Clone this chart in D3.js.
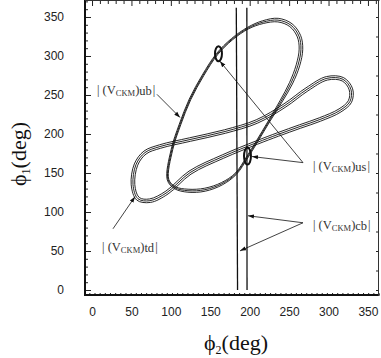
<!DOCTYPE html>
<html><head><meta charset="utf-8">
<script src="https://cdn.jsdelivr.net/npm/d3@7"></script>
<style>html,body{margin:0;padding:0;background:#fff;}svg{display:block}</style>
</head><body>
<script>
// ---------------- data (degrees) ----------------
const xTickLabels = [0, 50, 100, 150, 200, 250, 300, 350];
const yTickLabels = [0, 50, 100, 150, 200, 250, 300, 350];

// |V_ub| contour (phi2, phi1)
const ubPhi2 = [96.4,101.4,111.6,124.3,140.8,158.5,177.5,197.8,216.8,235.9,252.3,262.5,265.0,261.2,252.3,239.7,224.4,209.2,196.6,182.6,164.8,143.3,121.7,105.2];
const ubPhi1 = [141.5,180.1,212.2,244.4,275.2,302.3,321.5,335.7,343.4,346.0,339.5,325.4,308.7,288.1,265.0,241.8,216.1,190.4,169.8,149.2,136.3,128.6,127.3,131.2];

// |V_td| contour (phi2, phi1)
const tdPhi2 = [52.0,55.8,67.2,86.2,124.3,168.7,209.2,244.7,272.6,298.0,318.3,328.4,327.2,314.5,289.1,263.8,235.9,209.2,166.1,124.3,95.1,73.5,58.3];
const tdPhi1 = [135.0,160.8,176.2,183.9,192.9,203.2,216.1,236.7,257.2,271.4,270.1,257.2,241.8,230.2,218.6,209.6,199.4,189.1,171.1,150.5,125.0,114.5,117.0];

// |V_cb| bands (two near-vertical lines)
const cbLeftPhi2 = [183.0, 184.6];
const cbRightPhi2 = [196.4, 196.6];
const cbPhi1 = [362, 0];

// |V_us| small ellipses
const usPhi2 = [160.4, 197.2];
const usPhi1 = [302.9, 171.7];
const usHalfPhi2 = [4.4, 4.4];
const usHalfPhi1 = [9.6, 10.9];

// annotations: label text, label anchor, arrow tips
const labelNames = ["ub", "us", "cb", "td"];
const labelPhi2 = [6.3, 280.2, 280.2, 12.7];
const labelPhi1 = [250.8, 153.8, 78.2, 50.0];
const arrowFromPhi2 = [82.4, 267.6, 267.6, 267.6, 267.6, 26.6];
const arrowFromPhi1 = [250.8, 163.3, 163.3, 86.2, 86.2, 78.5];
const arrowToPhi2 = [111.6, 162.3, 202.9, 197.8, 187.7, 54.5];
const arrowToPhi1 = [221.2, 293.2, 171.1, 95.2, 50.2, 119.6];

// ---------------- styles ----------------
const ubSpread = [0.8,0.8,0.8,0.8,0.8,0.8,0.8,0.9,1.4,1.8,1.8,1.8,1.8,1.8,1.6,1.2,0.8,0.8,0.8,0.8,1.2,1.5,1.5,1.1];
const tdSpread = 1.8;

const W = 381, H = 358;
const svg = d3.select("body").append("svg").attr("width", W).attr("height", H);
const x = d3.scaleLinear().domain([-8.9, 364]).range([85, 379]);
const y = d3.scaleLinear().domain([-6.4, 370.5]).range([295, 1]);

const defs = svg.append("defs");
defs.append("marker").attr("id", "ah").attr("viewBox", "0 0 10 10")
  .attr("refX", 10).attr("refY", 5).attr("markerWidth", 6).attr("markerHeight", 6)
  .attr("markerUnits", "userSpaceOnUse").attr("orient", "auto")
  .append("path").attr("d", "M0,1.5 L10,5 L0,8.5 Z").attr("fill", "#111");

// ---- axes ----
const fontSans = "'Liberation Sans', Arial, sans-serif";
const fontSerif = "'Liberation Serif', 'DejaVu Serif', serif";

const gx = svg.append("g").attr("transform", "translate(0,295)");
gx.call(d3.axisBottom(x).tickValues(d3.range(-3.4, 364, 6.55)).tickSize(-2).tickFormat(""));
const gxl = svg.append("g").attr("transform", "translate(0,295)");
gxl.call(d3.axisBottom(x).tickValues(xTickLabels).tickSize(0).tickPadding(12));

const gy = svg.append("g").attr("transform", "translate(85,0)");
gy.call(d3.axisLeft(y).tickValues(d3.range(0, 371, 10)).tickSize(-3).tickFormat(""));
const gyl = svg.append("g").attr("transform", "translate(85,0)");
gyl.call(d3.axisLeft(y).tickValues(yTickLabels).tickSize(-6).tickPadding(21));

const gt = svg.append("g").attr("transform", "translate(0,1)");
gt.call(d3.axisTop(x).tickValues(d3.range(0, 361, 10)).tickSize(-3).tickFormat(""));
gt.call(g => g.selectAll(".tick").filter(d => d % 50 === 0).select("line").attr("y2", 5));

const gr = svg.append("g").attr("transform", "translate(379,0)");
gr.call(d3.axisRight(y).tickValues(d3.range(0, 371, 25)).tickSize(-3).tickFormat(""));

svg.selectAll(".domain").remove();
svg.selectAll(".tick line").attr("stroke", "#222").attr("stroke-width", 1);
svg.selectAll(".tick text").attr("font-family", fontSans).attr("font-size", 12).attr("fill", "#222");

// frame
svg.append("line").attr("x1", 85).attr("x2", 85).attr("y1", 0).attr("y2", 296).attr("stroke", "#111").attr("stroke-width", 2);
svg.append("line").attr("x1", 84).attr("x2", 379.5).attr("y1", 295).attr("y2", 295).attr("stroke", "#111").attr("stroke-width", 2);
svg.append("line").attr("x1", 85).attr("x2", 379.5).attr("y1", 0.5).attr("y2", 0.5).attr("stroke", "#333").attr("stroke-width", 1);
svg.append("line").attr("x1", 378.5).attr("x2", 378.5).attr("y1", 0).attr("y2", 296).attr("stroke", "#333").attr("stroke-width", 1);

// ---- contour bands (three parallel lines) ----
function band(p2, p1, spread) {
  const pts = p2.map((v, i) => [x(v), y(p1[i])]);
  const n = pts.length;
  const nor = pts.map((p, i) => {
    const a = pts[(i - 1 + n) % n], b = pts[(i + 1) % n];
    const tx = b[0] - a[0], ty = b[1] - a[1], l = Math.hypot(tx, ty);
    return [-ty / l, tx / l];
  });
  return [-1, 0, 1].map(k => pts.map((p, i) => {
    const s = Array.isArray(spread) ? spread[i] : spread;
    return [p[0] + k * s * nor[i][0], p[1] + k * s * nor[i][1]];
  }));
}
const closed = d3.line().curve(d3.curveCatmullRomClosed.alpha(0.5));
const plot = svg.append("g");
[...band(tdPhi2, tdPhi1, tdSpread), ...band(ubPhi2, ubPhi1, ubSpread)].forEach(pts => {
  plot.append("path").attr("d", closed(pts)).attr("fill", "none").attr("stroke", "#111").attr("stroke-width", 0.9);
});

// |V_cb| lines
[cbLeftPhi2, cbRightPhi2].forEach(arr => {
  plot.append("line").attr("x1", x(arr[0])).attr("y1", y(cbPhi1[0])).attr("x2", x(arr[1])).attr("y2", y(cbPhi1[1]))
    .attr("stroke", "#111").attr("stroke-width", 1.3);
});

// |V_us| ellipses
usPhi2.forEach((c, i) => {
  plot.append("ellipse").attr("cx", x(c)).attr("cy", y(usPhi1[i]))
    .attr("rx", x(c + usHalfPhi2[i]) - x(c)).attr("ry", y(usPhi1[i] - usHalfPhi1[i]) - y(usPhi1[i]))
    .attr("fill", "none").attr("stroke", "#111").attr("stroke-width", 2);
});

// arrows
arrowFromPhi2.forEach((v, i) => {
  plot.append("line").attr("x1", x(v)).attr("y1", y(arrowFromPhi1[i]))
    .attr("x2", x(arrowToPhi2[i])).attr("y2", y(arrowToPhi1[i]))
    .attr("stroke", "#111").attr("stroke-width", 0.8).attr("marker-end", "url(#ah)");
});

// labels
labelNames.forEach((nm, i) => {
  const t = svg.append("text").attr("x", x(labelPhi2[i])).attr("y", y(labelPhi1[i]))
    .attr("font-family", fontSerif).attr("font-size", 12.5).attr("fill", "#333");
  t.append("tspan").text("| (V");
  t.append("tspan").text("CKM").attr("font-size", 8.5).attr("dy", 2);
  t.append("tspan").text(")").attr("dy", -2);
  t.append("tspan").text(nm).attr("dy", 1);
  t.append("tspan").text("|").attr("dy", -1).attr("dx", 1);
});

// axis titles
const xt = svg.append("text").attr("x", 204).attr("y", 350).attr("font-family", fontSerif).attr("font-size", 22).attr("fill", "#111");
xt.append("tspan").text("ϕ");
xt.append("tspan").text("2").attr("font-size", 12).attr("dy", 4);
xt.append("tspan").text("(deg)").attr("dy", -4);

const yt = svg.append("text").attr("transform", "translate(26,186) rotate(-90)").attr("font-family", fontSerif).attr("font-size", 22).attr("fill", "#111");
yt.append("tspan").text("ϕ");
yt.append("tspan").text("1").attr("font-size", 12).attr("dy", 4);
yt.append("tspan").text("(deg)").attr("dy", -4);
</script>
</body></html>
